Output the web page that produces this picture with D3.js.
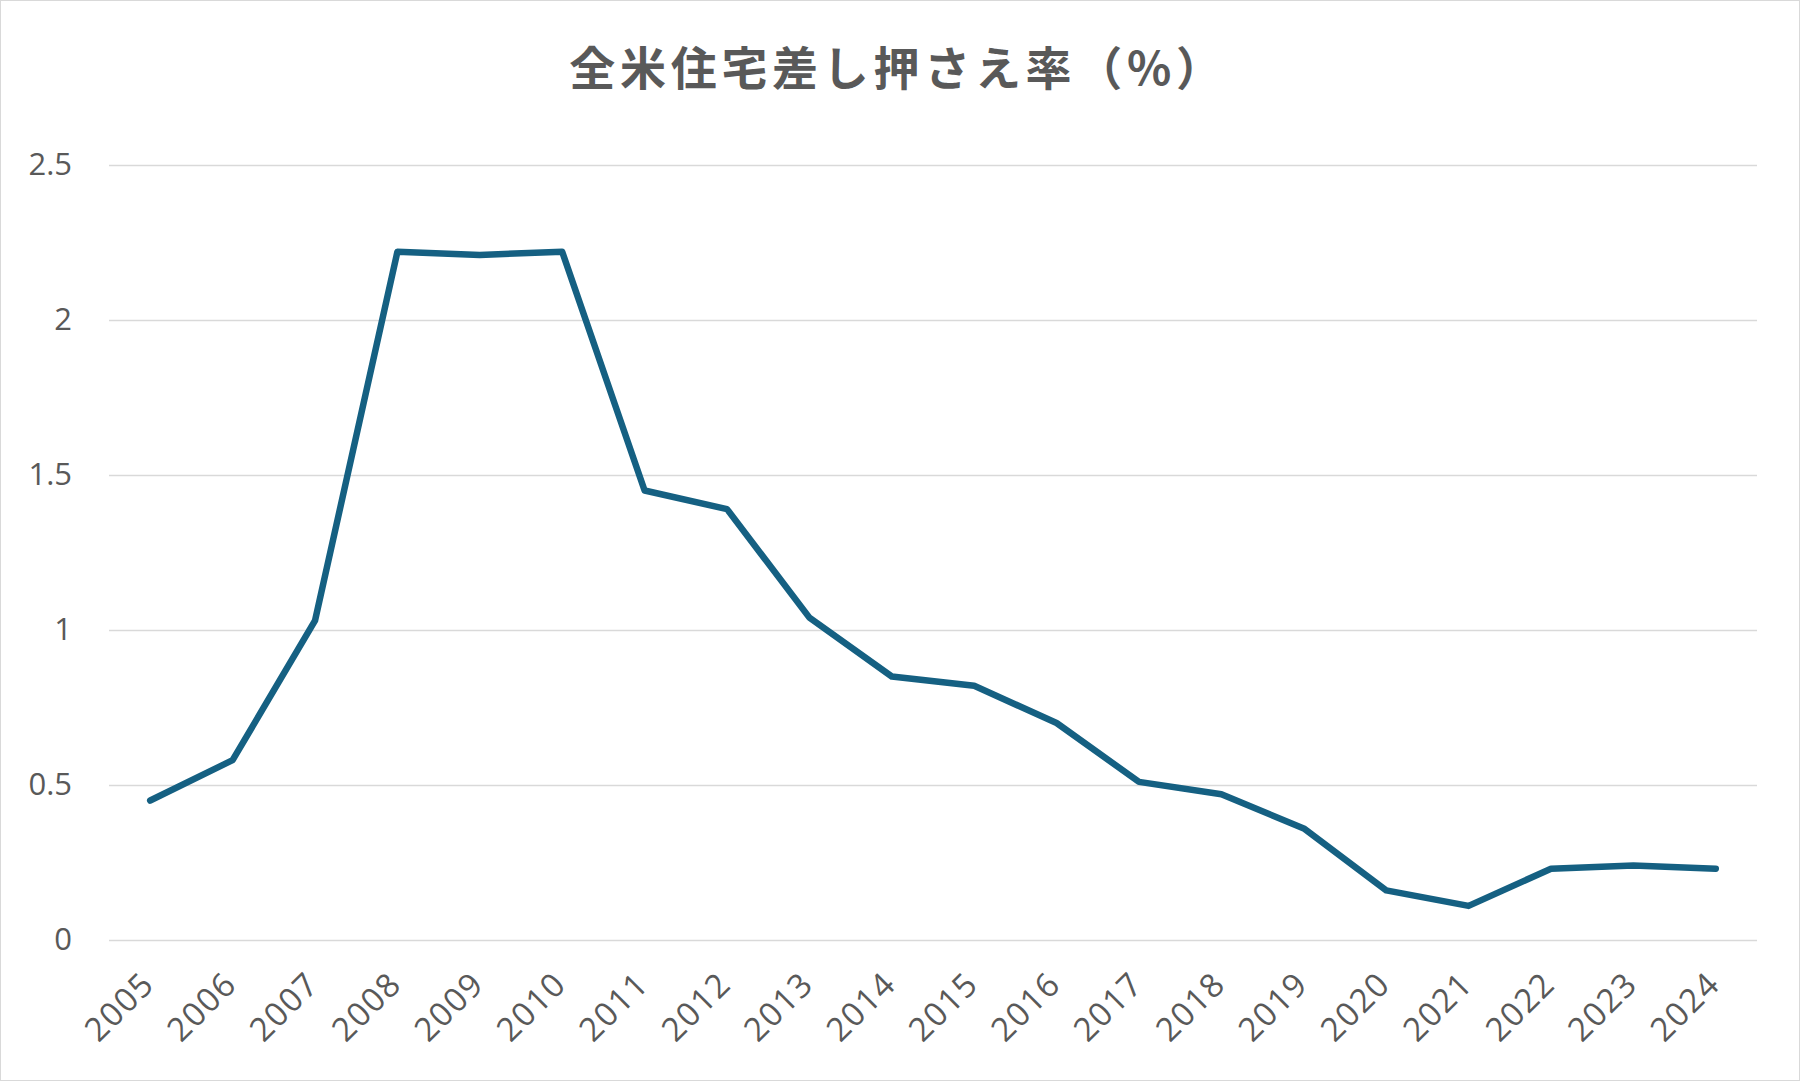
<!DOCTYPE html>
<html>
<head>
<meta charset="utf-8">
<script src="https://cdn.jsdelivr.net/npm/d3@7"></script>
<style>
  body { margin: 0; background: #fff; }
</style>
</head>
<body>
<div id="chart"></div>
<script>
var years = ["2005","2006","2007","2008","2009","2010","2011","2012","2013","2014",
             "2015","2016","2017","2018","2019","2020","2021","2022","2023","2024"];
var rates = [0.45, 0.58, 1.03, 2.22, 2.21, 2.22, 1.45, 1.39, 1.04, 0.85,
             0.82, 0.70, 0.51, 0.47, 0.36, 0.16, 0.11, 0.23, 0.24, 0.23];
var yTicks = [0, 0.5, 1, 1.5, 2, 2.5];
var title = "全米住宅差し押さえ率（%）";

var W = 1800, H = 1081;
var margin = {top: 165, right: 43, bottom: 141, left: 109},
    width = W - margin.left - margin.right,
    height = H - margin.top - margin.bottom;

var svg = d3.select("#chart")
  .append("svg")
    .attr("width", W)
    .attr("height", H);

// outer border
svg.append("rect")
  .attr("x", 0.5).attr("y", 0.5)
  .attr("width", W - 1).attr("height", H - 1)
  .attr("fill", "#fff")
  .attr("stroke", "#d9d9d9");

svg.append("text")
  .attr("x", 898)
  .attr("y", 85)
  .attr("text-anchor", "middle")
  .attr("font-family", "'Noto Sans CJK JP', sans-serif")
  .attr("font-weight", 700)
  .attr("font-size", "46px")
  .attr("letter-spacing", "4.7px")
  .attr("fill", "#595959")
  .text(title);

var g = svg.append("g")
  .attr("transform", "translate(" + margin.left + "," + margin.top + ")");

var x = d3.scaleBand()
  .domain(years)
  .range([0, width]);

var y = d3.scaleLinear()
  .domain([0, 2.5])
  .range([height, 0]);

// gridlines + y labels
var yAxis = g.append("g")
  .call(d3.axisLeft(y).tickValues(yTicks).tickSize(-width).tickPadding(37)
    .tickFormat(function(d) { return d; }));
yAxis.select(".domain").remove();
yAxis.selectAll("line").attr("stroke", "#d9d9d9").attr("stroke-width", 1.5);
yAxis.selectAll("text")
  .attr("font-family", "'Open Sans', sans-serif")
  .attr("font-size", "31px")
  .attr("fill", "#595959");

// x labels
var xAxis = g.append("g")
  .attr("transform", "translate(0," + height + ")")
  .call(d3.axisBottom(x).tickSize(0).tickPadding(0));
xAxis.select(".domain").remove();
xAxis.selectAll("text")
  .attr("font-family", "'Open Sans', sans-serif")
  .attr("font-size", "33px")
  .attr("letter-spacing", "1.5px")
  .attr("fill", "#595959")
  .attr("dy", 0)
  .attr("transform", "translate(6,46) rotate(-45)")
  .style("text-anchor", "end");

var line = d3.line()
  .x(function(d, i) { return x(years[i]) + x.bandwidth() / 2; })
  .y(function(d) { return y(d); });

g.append("path")
  .datum(rates)
  .attr("fill", "none")
  .attr("stroke", "#156082")
  .attr("stroke-width", 6.5)
  .attr("stroke-linecap", "round")
  .attr("stroke-linejoin", "round")
  .attr("d", line);
</script>
</body>
</html>
